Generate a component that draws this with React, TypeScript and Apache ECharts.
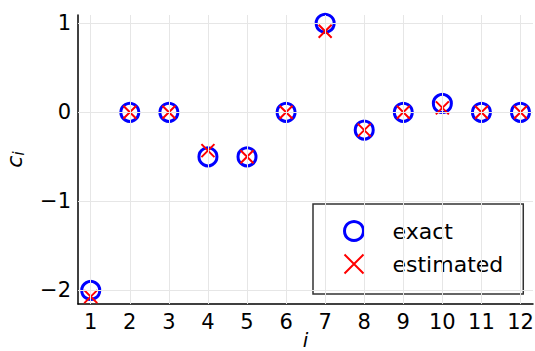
import React, { useEffect, useRef } from "react";
import * as echarts from "echarts";

const indices = [1, 2, 3, 4, 5, 6, 7, 8, 9, 10, 11, 12];
const exactValues = [-2, 0, 0, -0.5, -0.5, 0, 1, -0.2, 0, 0.1, 0, 0];
const estimatedValues = [-2.07, 0, 0, -0.43, -0.5, 0, 0.91, -0.2, 0, 0.05, 0, 0];
const xTicks = [1, 2, 3, 4, 5, 6, 7, 8, 9, 10, 11, 12];
const yTicks = [-2, -1, 0, 1];

const CROSS = "path://M0,0L10,10M10,0L0,10";
const FONT = "DejaVu Sans";

export default function App() {
  const ref = useRef<HTMLDivElement>(null);
  useEffect(() => {
    if (!ref.current) return;
    const chart = echarts.init(ref.current, undefined, { renderer: "svg" });
    const gridColor = "#e6e6e6";
    chart.setOption({
      animation: false,
      backgroundColor: "#ffffff",
      grid: { left: 78, right: 2, top: 15, bottom: 47, outerBoundsMode: "none", containLabel: false },
      xAxis: {
        type: "value",
        min: 0.674,
        max: 12.32,
        name: "i",
        nameLocation: "middle",
        nameGap: 27,
        nameMoveOverlap: false,
        nameTextStyle: { fontFamily: FONT, fontSize: 20, lineHeight: 18, fontStyle: "italic", color: "#000" },
        axisLine: { show: true, onZero: false, lineStyle: { color: "#000", width: 1.5 } },
        axisTick: { show: true, inside: true, length: 3, customValues: xTicks, lineStyle: { color: "#000", width: 1 } },
        axisLabel: { customValues: xTicks, fontFamily: FONT, fontSize: 21, color: "#000", margin: 7 },
        splitLine: { show: false },
      },
      yAxis: {
        type: "value",
        min: -2.153,
        max: 1.093,
        name: "{c|c}{s|i}",
        nameLocation: "middle",
        nameGap: 52,
        nameRotate: 90,
        nameTextStyle: {
          fontFamily: FONT,
          color: "#000",
          rich: {
            c: { fontFamily: FONT, fontSize: 22, fontStyle: "italic", color: "#000" },
            s: { fontFamily: FONT, fontSize: 15, fontStyle: "italic", color: "#000", padding: [8, 0, 0, 0] },
          },
        },
        axisLine: { show: true, onZero: false, lineStyle: { color: "#000", width: 1.5 } },
        axisTick: { show: true, inside: true, length: 3, customValues: yTicks, lineStyle: { color: "#000", width: 1 } },
        axisLabel: {
          customValues: yTicks,
          fontFamily: FONT,
          fontSize: 21,
          color: "#000",
          margin: 7,
          formatter: (v: number) => (v < 0 ? "\u2212" + Math.abs(v) : String(v)),
        },
        splitLine: { show: false },
      },
      legend: {
        orient: "vertical",
        left: 313,
        top: 204,
        padding: [16, 20, 19, 30],
        itemWidth: 19,
        itemHeight: 19,
        itemGap: 11,
        borderColor: "#333",
        borderWidth: 1.5,
        borderRadius: 0,
        backgroundColor: "#fff",
        textStyle: { fontFamily: FONT, fontSize: 22, color: "#000", padding: [0, 0, 0, 24] },
        data: [
          { name: "exact", icon: "circle", itemStyle: { color: "transparent", borderColor: "#0000ff", borderWidth: 3, opacity: 1 } },
          { name: "estimated", icon: CROSS, itemStyle: { color: "transparent", borderColor: "#ff0000", borderWidth: 2, opacity: 1 } },
        ],
      },
      series: [
        {
          name: "grid",
          type: "line",
          data: [],
          silent: true,
          markLine: {
            silent: true,
            symbol: "none",
            label: { show: false },
            lineStyle: { color: gridColor, width: 1, type: "solid" },
            data: [
              ...xTicks.map((v) => ({ xAxis: v })),
              ...yTicks.map((v) => ({ yAxis: v })),
            ],
          },
        },
        {
          name: "exact",
          type: "scatter",
          symbol: "circle",
          symbolSize: 18,
          itemStyle: { color: "transparent", borderColor: "#0000ff", borderWidth: 3, opacity: 1 },
          data: indices.map((x, k) => [x, exactValues[k]]),
          z: 3,
        },
        {
          name: "estimated",
          type: "scatter",
          symbol: CROSS,
          symbolSize: 13,
          itemStyle: { color: "transparent", borderColor: "#ff0000", borderWidth: 2, opacity: 1 },
          data: indices.map((x, k) => [x, estimatedValues[k]]),
          z: 4,
        },
      ],
    });
    return () => chart.dispose();
  }, []);
  return <div ref={ref} style={{ width: 535, height: 351, position: "absolute", left: 0, top: 0 }} />;
}
